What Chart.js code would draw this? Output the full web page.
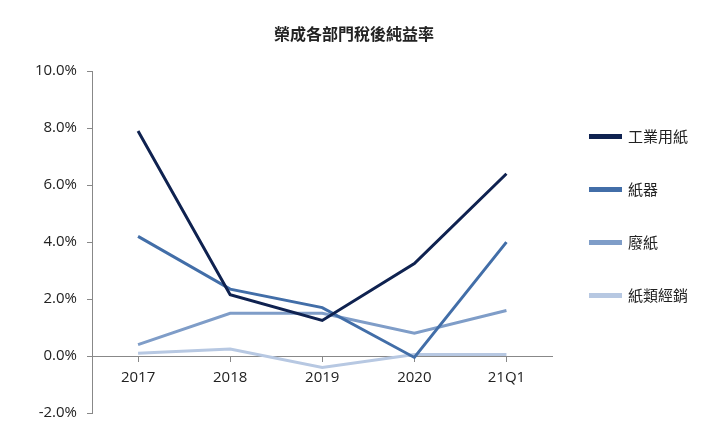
<!DOCTYPE html>
<html>
<head>
<meta charset="utf-8">
<script src="https://cdn.jsdelivr.net/npm/chart.js@4"></script>
<style>
  body { margin: 0; background: #fff; }
  #wrap { width: 720px; height: 432px; }
</style>
</head>
<body>
<div id="wrap"><canvas id="c"></canvas></div>
<script>
// data
const years = ["2017", "2018", "2019", "2020", "21Q1"];
const paper    = [7.9, 2.15, 1.25, 3.25, 6.4];   // 工業用紙
const carton   = [4.2, 2.35, 1.7, -0.05, 4.0];   // 紙器
const waste    = [0.4, 1.5, 1.5, 0.8, 1.6];      // 廢紙
const dealer   = [0.1, 0.25, -0.4, 0.05, 0.05];  // 紙類經銷
const yTicks   = [-2, 0, 2, 4, 6, 8, 10];

const font = "'Noto Sans CJK TC', 'Noto Sans', sans-serif";
const numFont = "'Open Sans', 'Noto Sans', sans-serif";

function line(label, data, color) {
  return {
    label, data,
    borderColor: color, backgroundColor: color,
    borderWidth: 3, pointRadius: 0, tension: 0
  };
}

new Chart(document.getElementById("c"), {
  type: "line",
  data: {
    labels: years,
    datasets: [
      line("工業用紙", paper, "#0f2250"),
      line("紙器", carton, "#426ea8"),
      line("廢紙", waste, "#7f9dc8"),
      line("紙類經銷", dealer, "#b7c8e2")
    ]
  },
  options: {
    responsive: true,
    maintainAspectRatio: false,
    animation: false,
    layout: { padding: { left: 10, right: 22, top: 14, bottom: 14 } },
    plugins: {
      title: {
        display: true, text: "榮成各部門稅後純益率",
        font: { family: font, size: 16, weight: "bold" },
        color: "#222", padding: { top: 10, bottom: 28 }
      },
      legend: {
        position: "right",
        labels: {
          font: { family: font, size: 15 }, color: "#222",
          boxWidth: 30, boxHeight: 2, padding: 38
        }
      },
      tooltip: { enabled: false }
    },
    scales: {
      x: {
        position: { y: 0 },
        offset: true,
        grid: { drawOnChartArea: false, drawTicks: true, tickLength: 5, color: "#888" },
        border: { color: "#888" },
        ticks: { font: { family: numFont, size: 15 }, color: "#222", padding: 8 }
      },
      y: {
        min: -2, max: 10,
        afterBuildTicks: s => { s.ticks = yTicks.map(v => ({ value: v })); },
        grid: { drawOnChartArea: false, drawTicks: true, tickLength: 5, color: "#888" },
        border: { color: "#888" },
        afterFit: s => { s.width = 82; },
        ticks: {
          font: { family: numFont, size: 15 }, color: "#222", padding: 10,
          callback: v => v.toFixed(1) + "%"
        }
      }
    }
  }
});
</script>
</body>
</html>
